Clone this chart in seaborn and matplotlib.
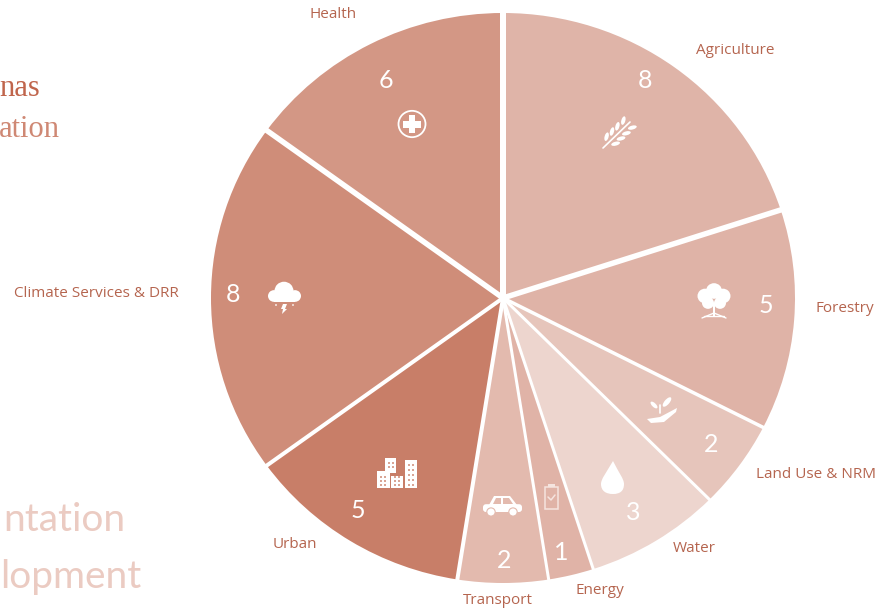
import matplotlib
matplotlib.use("Agg")
import matplotlib.pyplot as plt
from matplotlib.patches import Circle, Ellipse, PathPatch, Polygon, Rectangle, FancyBboxPatch
from matplotlib.path import Path
import numpy as np
import seaborn as sns

# Data
categories = ["Agriculture", "Forestry", "Land Use & NRM", "Water", "Energy",
              "Transport", "Urban", "Climate Services & DRR", "Health"]
counts = [8, 5, 2, 3, 1, 2, 5, 8, 6]
slice_colors = ["#DFB4A8", "#DFB3A7", "#E6C5BB", "#EDD5CE", "#E0B3A7",
                "#E3BAAE", "#C87E68", "#CF8D79", "#D39785"]

# Layout, in pixels of the 883x611 picture
W, H = 883, 611
center_px = (503, 298)
radius_px = 292
squash = 285 / 292  # the reference pie is a little wider than tall
# white gap after each slice, then the one before the first
gap_widths = [5.5, 3.5, 3, 3, 3, 4, 4, 5.5, 6]
label_xy = [(735, 50), (845, 308), (816, 474), (694, 548), (600, 590),
            (498, 600), (295, 544), (96, 293), (333, 15)]
count_xy = [(645, 80), (766, 305), (711, 445), (633, 513), (561, 553),
            (504, 561), (358, 511), (233, 295), (386, 80)]

TEXT_COLOR = "#B5654F"


def Y(py):
    return (H - py) / squash


sns.set_theme(style="white")
plt.rcParams["font.family"] = ["Open Sans", "DejaVu Sans"]

fig = plt.figure(figsize=(W / 100, H / 100), dpi=100)
ax = fig.add_axes([0, 0, 1, 1])

palette = sns.color_palette(slice_colors)
wedges, _ = ax.pie(counts, colors=palette, startangle=90, counterclock=False,
                   center=(center_px[0], Y(center_px[1])), radius=radius_px,
                   frame=True, wedgeprops={"edgecolor": "none"})

ax.set_xlim(0, W)
ax.set_ylim(0, H / squash)
ax.set_aspect("auto")
ax.axis("off")

# white borders between slices
ends = np.cumsum(counts) / sum(counts) * 2 * np.pi
for angle, lw in zip(ends, gap_widths):
    ax.plot([center_px[0], center_px[0] + (radius_px + 3) * np.sin(angle)],
            [Y(center_px[1]), Y(center_px[1]) + (radius_px + 3) * np.cos(angle)],
            color="white", lw=lw * 0.72, solid_capstyle="butt", zorder=3)

# slice names and counts
for name, (x, y) in zip(categories, label_xy):
    ax.text(x, Y(y), name, color=TEXT_COLOR, fontsize=11, ha="center", va="center",
            family="Open Sans")
for n, (x, y) in zip(counts, count_xy):
    ax.text(x, Y(y), str(n), color="white", fontsize=18, ha="center", va="center",
            family="Lato", zorder=6)

# cut-off heading text on the left edge
ax.text(40, Y(88), "nas", color="#C0654C", fontsize=22, ha="right", va="center",
        family="Liberation Serif")
ax.text(60, Y(129), "ation", color="#CF8874", fontsize=22, ha="right", va="center",
        family="Liberation Serif")
ax.text(125, Y(520), "ntation", color="#EBCBC2", fontsize=28, ha="right", va="center",
        family="Lato")
ax.text(141, Y(577), "lopment", color="#EBCBC2", fontsize=28, ha="right", va="center",
        family="Lato")


# white icons
def add(patch):
    patch.set_zorder(5)
    ax.add_patch(patch)


def white_circle(x, y, r):
    add(Circle((x, Y(y)), r, fc="white", ec="none"))


def white_rect(x, y, w, h):
    add(Rectangle((x, Y(y + h)), w, h / squash, fc="white", ec="none"))


# health
add(Circle((412, Y(124)), 13.5, fc="none", ec="white", lw=1.3))
white_rect(403, 121, 18, 6.5)
white_rect(408.7, 115, 6.5, 18)

# wheat
ax.plot([603, 630], [Y(148), Y(122)], color="white", lw=1.2, zorder=5)
for t, side in [(0.3, 1), (0.3, -1), (0.5, 1), (0.5, -1), (0.7, 1), (0.7, -1), (0.92, 1), (0.92, -1)]:
    x = 603 + 27 * t + side * 4.5
    y = 148 - 26 * t + side * 3.5
    add(Ellipse((x, Y(y)), 9, 4, angle=15 if side > 0 else 75, fc="white", ec="none"))

# tree
for x, y, r in [(714, 291, 8), (705, 296, 7.5), (723, 296, 7.5), (708, 303, 6), (720, 303, 6)]:
    white_circle(x, y, r)
white_rect(712.7, 303, 2.6, 14)
ax.plot([702, 714, 726], [Y(318), Y(313), Y(318)], color="white", lw=1, zorder=5)
ax.plot([704, 724], [Y(316), Y(316)], color="white", lw=1, zorder=5)

# hand with sprout
add(Polygon([(647, Y(419)), (660, Y(417)), (677, Y(408)), (676, Y(412)), (664, Y(422)), (651, Y(423))],
            fc="white", ec="none"))
ax.plot([660, 660], [Y(413), Y(405)], color="white", lw=1.2, zorder=5)
add(Ellipse((667, Y(402)), 12, 5, angle=50, fc="white", ec="none"))
add(Ellipse((654, Y(405)), 9, 4, angle=-45, fc="white", ec="none"))

# drop
drop_verts = [(613, Y(461)), (606, Y(473)), (601, Y(479)), (601, Y(484)),
              (601, Y(491)), (606, Y(494)), (613, Y(494)),
              (620, Y(494)), (624, Y(491)), (624, Y(484)),
              (624, Y(479)), (619, Y(473)), (613, Y(461))]
drop_codes = [Path.MOVETO] + [Path.CURVE4] * 12
add(PathPatch(Path(drop_verts, drop_codes), fc="white", ec="none"))

# battery
add(Rectangle((545, Y(509)), 13, 23, fc="none", ec="#F5E4DF", lw=1.1))
add(Rectangle((548, Y(487)), 7, 3, fc="#F5E4DF", ec="none"))
ax.plot([548, 551, 555], [Y(497), Y(500), Y(495)], color="#F5E4DF", lw=1.1, zorder=5)

# car
add(FancyBboxPatch((483, Y(512)), 39, 8, boxstyle="round,pad=0,rounding_size=3", fc="white", ec="none"))
add(Polygon([(489, Y(505)), (494, Y(496)), (510, Y(496)), (517, Y(505))], fc="white", ec="none"))
add(Polygon([(493, Y(504)), (496, Y(498)), (501, Y(498)), (501, Y(504))], fc="#E3BAAE", ec="none"))
add(Polygon([(503, Y(504)), (503, Y(498)), (509, Y(498)), (513, Y(504))], fc="#E3BAAE", ec="none"))
for x in (491, 513):
    add(Circle((x, Y(512)), 4.2, fc="white", ec="#E3BAAE", lw=0.8))

# buildings
white_rect(377, 471, 13, 17)
white_rect(385, 458, 11, 15)
white_rect(391, 476, 12, 12)
white_rect(405, 460, 12, 28)
for bx in (380, 384, 394, 398, 408, 412):
    for by in (476, 480, 484) if bx < 404 else (464, 469, 474, 479, 484):
        add(Rectangle((bx, Y(by + 2)), 2, 2, fc="#D9A595", ec="none"))
for bx, by in [(388, 462), (392, 462), (388, 466), (392, 466)]:
    add(Rectangle((bx, Y(by + 2)), 2, 2, fc="#D9A595", ec="none"))

# cloud
for x, y, r in [(284, 291, 9.5), (274, 296, 6), (295, 296, 6)]:
    white_circle(x, y, r)
white_rect(274, 296, 21, 6)
add(Polygon([(283, Y(304)), (287, Y(304)), (285, Y(309)), (287, Y(309)), (282, Y(314)), (283, Y(309)), (281, Y(309))],
            fc="white", ec="none"))
for x, y in [(276, 305), (293, 305)]:
    white_circle(x, y, 0.9)

fig.savefig("out.png", dpi=100)
